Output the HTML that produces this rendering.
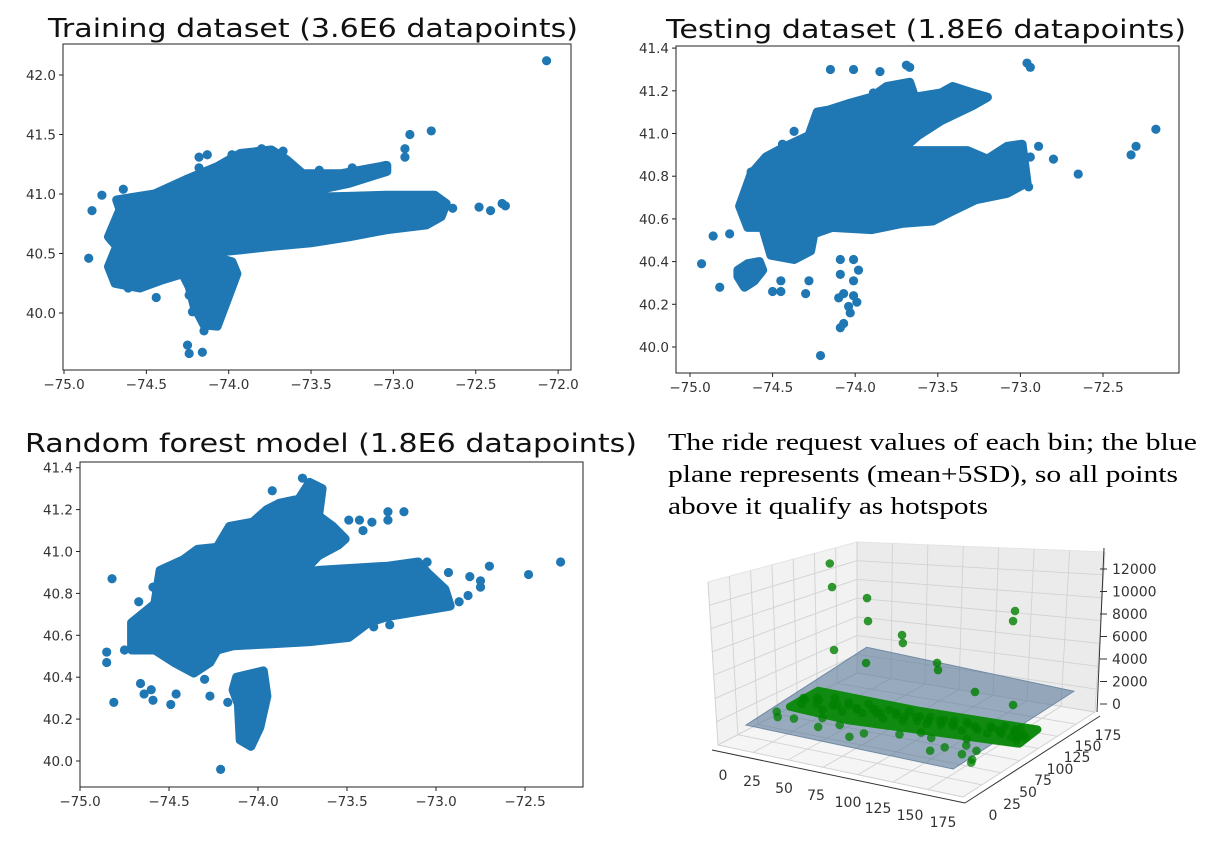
<!DOCTYPE html>
<html><head><meta charset="utf-8"><style>
html,body{margin:0;padding:0;background:#fff;}
svg{display:block;font-family:"DejaVu Sans","Liberation Sans",sans-serif;}
</style></head><body>
<svg id="fig" width="1206" height="843" viewBox="0 0 1206 843" xmlns="http://www.w3.org/2000/svg">
<rect width="1206" height="843" fill="#fff"/>
<text x="48" y="37" font-size="26" textLength="530" lengthAdjust="spacingAndGlyphs" fill="#111">Training dataset (3.6E6 datapoints)</text>
<text x="666" y="38" font-size="26" textLength="520" lengthAdjust="spacingAndGlyphs" fill="#111">Testing dataset (1.8E6 datapoints)</text>
<text x="25" y="452" font-size="26" textLength="612" lengthAdjust="spacingAndGlyphs" fill="#111">Random forest model (1.8E6 datapoints)</text>
<g font-family="'Liberation Serif',serif" font-size="24" fill="#000">
<text x="668" y="450" textLength="529" lengthAdjust="spacingAndGlyphs">The ride request values of each bin; the blue</text>
<text x="668" y="482" textLength="510" lengthAdjust="spacingAndGlyphs">plane represents (mean+5SD), so all points</text>
<text x="668" y="514" textLength="320" lengthAdjust="spacingAndGlyphs">above it qualify as hotspots</text>
</g>
<g id="p1"></g>
<g id="p2"></g>
<g id="p3"></g>
<g id="p4"></g>
</svg>
<script>
// ---------- DATA: Training ----------
const trainXTicks = [-75.0, -74.5, -74.0, -73.5, -73.0, -72.5, -72.0];
const trainYTicks = [40.0, 40.5, 41.0, 41.5, 42.0];
const trainBlob = [[-74.68,40.95],[-74.45,41.0],[-74.26,41.12],[-74.07,41.23],[-73.93,41.34],[-73.74,41.37],[-73.65,41.29],[-73.55,41.17],[-73.32,41.17],[-73.04,41.24],[-73.04,41.19],[-73.27,41.09],[-73.51,41.02],[-73.6,40.97],[-73.27,40.98],[-73.04,40.99],[-72.75,40.99],[-72.68,40.92],[-72.71,40.81],[-72.8,40.74],[-73.04,40.7],[-73.27,40.64],[-73.5,40.59],[-73.74,40.56],[-73.93,40.53],[-74.16,40.5],[-73.98,40.43],[-73.95,40.33],[-74.01,40.11],[-74.07,39.89],[-74.15,39.9],[-74.21,40.06],[-74.24,40.22],[-74.28,40.33],[-74.4,40.28],[-74.54,40.21],[-74.69,40.25],[-74.73,40.39],[-74.68,40.56],[-74.73,40.64],[-74.66,40.87]];
const trainLon = [-74.85,-74.83,-74.77,-74.64,-72.07,-72.77,-72.9,-72.93,-72.93,-72.64,-72.48,-72.41,-72.34,-72.32,-74.44,-74.24,-74.25,-74.16,-74.15,-74.22,-74.18,-74.13,-74.18,-73.98,-73.8,-73.67,-73.45,-73.25,-73.05,-74.24,-74.61];
const trainLat = [40.46,40.86,40.99,41.04,42.12,41.53,41.5,41.38,41.31,40.88,40.89,40.86,40.92,40.9,40.13,39.66,39.73,39.67,39.85,40.01,41.31,41.33,41.22,41.33,41.38,41.36,41.2,41.22,41.24,40.15,40.21];
// ---------- DATA: Testing ----------
const testXTicks = [-75.0, -74.5, -74.0, -73.5, -73.0, -72.5];
const testYTicks = [40.0, 40.2, 40.4, 40.6, 40.8, 41.0, 41.2, 41.4];
const testBlob = [[-74.7,40.66],[-74.63,40.81],[-74.54,40.89],[-74.42,40.94],[-74.28,40.99],[-74.23,41.1],[-74.16,41.11],[-74.04,41.14],[-73.9,41.17],[-73.81,41.22],[-73.67,41.24],[-73.64,41.17],[-73.48,41.19],[-73.41,41.22],[-73.29,41.19],[-73.2,41.17],[-73.29,41.13],[-73.48,41.06],[-73.62,40.99],[-73.74,40.91],[-73.67,40.92],[-73.32,40.92],[-73.2,40.88],[-73.08,40.94],[-72.99,40.95],[-72.96,40.77],[-73.08,40.72],[-73.27,40.69],[-73.43,40.63],[-73.53,40.59],[-73.71,40.58],[-73.9,40.55],[-74.14,40.56],[-74.25,40.53],[-74.27,40.45],[-74.37,40.41],[-74.51,40.43],[-74.56,40.56],[-74.65,40.56]];
const testBlob2 = [[-74.71,40.36],[-74.65,40.39],[-74.58,40.4],[-74.56,40.36],[-74.61,40.31],[-74.67,40.28],[-74.71,40.33]];
const testLon = [-74.09,-74.01,-73.98,-74.09,-74.01,-74.07,-74.01,-74.04,-74.03,-74.07,-74.09,-74.1,-73.99,-74.93,-74.86,-74.76,-74.82,-74.67,-74.63,-74.5,-74.45,-74.45,-74.3,-74.28,-74.21,-74.15,-74.01,-73.85,-73.69,-73.67,-72.96,-72.94,-72.89,-72.8,-72.94,-72.65,-72.33,-72.3,-72.18,-72.95,-73.89,-74.37,-74.44];
const testLat = [40.41,40.41,40.36,40.34,40.31,40.25,40.24,40.19,40.16,40.11,40.09,40.23,40.21,40.39,40.52,40.53,40.28,40.71,40.82,40.26,40.26,40.31,40.25,40.31,39.96,41.3,41.3,41.29,41.32,41.31,41.33,41.31,40.94,40.88,40.89,40.81,40.9,40.94,41.02,40.75,41.19,41.01,40.95];
// ---------- DATA: Random forest ----------
const rfXTicks = [-75.0, -74.5, -74.0, -73.5, -73.0, -72.5];
const rfYTicks = [40.0, 40.2, 40.4, 40.6, 40.8, 41.0, 41.2, 41.4];
const rfBlob = [[-74.71,40.53],[-74.71,40.66],[-74.58,40.75],[-74.55,40.91],[-74.42,40.96],[-74.34,41.01],[-74.23,41.02],[-74.16,41.12],[-74.03,41.14],[-73.95,41.2],[-73.88,41.23],[-73.77,41.25],[-73.71,41.33],[-73.64,41.3],[-73.66,41.17],[-73.58,41.12],[-73.51,41.06],[-73.55,41.03],[-73.66,40.98],[-73.75,40.9],[-73.66,40.91],[-73.27,40.93],[-73.1,40.95],[-73.05,40.9],[-72.95,40.82],[-72.92,40.74],[-73.27,40.69],[-73.38,40.66],[-73.49,40.59],[-73.71,40.57],[-73.92,40.56],[-74.14,40.55],[-74.23,40.53],[-74.27,40.47],[-74.36,40.42],[-74.47,40.47],[-74.58,40.53]];
const rfBlob2 = [[-74.12,40.4],[-73.97,40.43],[-73.95,40.31],[-73.99,40.16],[-74.04,40.07],[-74.1,40.1],[-74.11,40.27],[-74.14,40.34]];
const rfLon = [-74.82,-74.85,-74.85,-74.75,-74.81,-74.49,-74.46,-74.59,-74.67,-74.66,-74.6,-74.64,-74.59,-74.3,-74.27,-74.17,-74.21,-73.92,-73.75,-73.49,-73.43,-73.41,-73.36,-73.27,-73.18,-73.27,-72.93,-72.87,-72.82,-72.81,-72.75,-72.75,-72.7,-72.48,-72.3,-73.35,-73.26,-73.05];
const rfLat = [40.87,40.52,40.47,40.53,40.28,40.27,40.32,40.83,40.76,40.37,40.34,40.32,40.29,40.39,40.31,40.28,39.96,41.29,41.35,41.15,41.15,41.1,41.14,41.19,41.19,41.15,40.9,40.76,40.79,40.88,40.86,40.83,40.93,40.89,40.95,40.64,40.65,40.95];
// ---------- DATA: 3D hotspots ----------
const binXTicks = [0,25,50,75,100,125,150,175];
const binYTicks = [0,25,50,75,100,125,150,175];
const countTicks = [0,2000,4000,6000,8000,10000,12000];
const planeLevel = 1500;
const hotX = [26,27.6,52.6,53.3,29,51.9,77.6,78.2,102.6,103.3,158.3,156.9,129.7,156.9];
const hotY = [100,100,100,100,100,100,100,100,100,100,100,100,100,100];
const hotZ = [11700,9650,9330,7300,4090,3540,6700,6010,4880,4270,10970,10040,3020,2580];
const bandPolyX = [18,20,90,170,172,150,60];
const bandPolyY = [62,96,98,108,80,76,60];
const bandX = [18,22,25,30,35,38,42,46,50,55,58,62,66,70,74,78,82,86,90,94,98,102,106,110,114,118,122,126,130,134,138,142,146,150,154,158,162,166,170,168,160,150,20,28,40,48,56,64,72,80,88,96,104,112,120,128,136,144,152,160,166,15,20,30,45,50,60,75,80,100,120,130,135,145,150,155,160,162,140,110];
const bandY = [80,70,85,75,90,68,80,88,72,82,92,76,86,80,90,74,84,94,78,88,82,92,80,90,84,94,86,96,82,92,88,98,86,94,90,100,88,96,92,84,104,102,78,82,78,84,80,86,82,88,84,90,86,92,88,94,90,96,92,96,90,50,42,45,55,40,50,35,45,55,60,40,50,60,45,55,40,35,70,65];
const bandZ = 400;

const NS = "http://www.w3.org/2000/svg";
function mk(tag, attrs, parent) {
  const e = document.createElementNS(NS, tag);
  for (const k in attrs) e.setAttribute(k, attrs[k]);
  parent.appendChild(e);
  return e;
}
const BLUE = "#1f77b4";

function scatterPanel(gid, cfg, xticks, yticks, blobs, lons, lats) {
  const g = document.getElementById(gid);
  const xs = v => cfg.x0 + (v - cfg.lonRef) * cfg.kx;
  const ys = v => cfg.y0 - (v - cfg.latRef) * cfg.ky;
  blobs.forEach(b => {
    const pts = b.map(p => xs(p[0]).toFixed(1) + "," + ys(p[1]).toFixed(1)).join(" ");
    const p = mk("polygon", {points: pts, fill: BLUE, stroke: BLUE, "stroke-width": 9, "stroke-linejoin": "round"}, g);
    
    
  });
  lons.forEach((lo, i) => {
    const c = mk("circle", {cx: xs(lo), cy: ys(lats[i]), r: 4.6, fill: BLUE}, g);
    
    
  });
  const fr = mk("rect", {x: cfg.L, y: cfg.T, width: cfg.R - cfg.L, height: cfg.B - cfg.T, fill: "none", stroke: "#222", "stroke-width": 1}, g);
  
  
  xticks.forEach(t => {
    const x = xs(t);
    mk("line", {x1: x, x2: x, y1: cfg.B, y2: cfg.B + 4, stroke: "#222"}, g);
    const tx = mk("text", {x: x, y: cfg.B + 19, "font-size": 13.5, "text-anchor": "middle", fill: "#333"}, g);
    tx.textContent = "\u2212" + Math.abs(t).toFixed(1);
    
    
  });
  yticks.forEach(t => {
    const y = ys(t);
    mk("line", {x1: cfg.L - 4, x2: cfg.L, y1: y, y2: y, stroke: "#222"}, g);
    const tx = mk("text", {x: cfg.L - 7, y: y + 5, "font-size": 13.5, "text-anchor": "end", fill: "#333"}, g);
    tx.textContent = t.toFixed(1);
    
    
  });
}

scatterPanel("p1", {L: 63, R: 571, T: 44, B: 370, x0: 64, lonRef: -75, kx: 164.7, y0: 313, latRef: 40, ky: 119},
  trainXTicks, trainYTicks, [trainBlob], trainLon, trainLat);
scatterPanel("p2", {L: 676, R: 1179, T: 46, B: 373, x0: 690, lonRef: -75, kx: 165.2, y0: 347, latRef: 40, ky: 213.5},
  testXTicks, testYTicks, [testBlob, testBlob2], testLon, testLat);
scatterPanel("p3", {L: 80, R: 583, T: 462, B: 787, x0: 80, lonRef: -75, kx: 178, y0: 761, latRef: 40, ky: 209.5},
  rfXTicks, rfYTicks, [rfBlob, rfBlob2], rfLon, rfLat);

// ---------- 3D panel ----------
(function () {
  const g = document.getElementById("p4");
  const O = [718, 745];
  const P = (x, y, z) => [O[0] + x * 1.4 + y * 0.754, O[1] + x * 0.297 - y * 0.486 - 9 - z * 0.01125];
  const poly = (pts, attrs, name) => {
    const p = mk("polygon", Object.assign({points: pts.map(q => q.join(",")).join(" ")}, attrs), g);
    
    
    return p;
  };
  const lerp = (a, b, t) => [a[0] + (b[0] - a[0]) * t, a[1] + (b[1] - a[1]) * t];
  const LT = [708, 582], BK = [857, 542], BKb = [857, 673], LB = [718, 745], RT = [1105, 552], RB = [1095, 712], FR = [963, 797];
  poly([LT, BK, BKb, LB], {fill: "#f2f2f2", stroke: "#e4e4e4"}, "left-pane");
  poly([BK, RT, RB, BKb], {fill: "#ebebeb", stroke: "#e4e4e4"}, "back-pane");
  poly([LB, BKb, RB, FR], {fill: "#f5f5f5", stroke: "#e4e4e4"}, "floor-pane");
  const gl = (a, b) => mk("line", {x1: a[0], y1: a[1], x2: b[0], y2: b[1], stroke: "#d2d2d2", "stroke-width": 0.9}, g);
  for (let i = 0; i <= 7; i++) {
    const t = i / 7;
    gl(lerp(LB, BKb, t), lerp(LT, BK, t));
    gl(lerp(BK, RT, t), lerp(BKb, RB, t));
    gl(lerp(LB, FR, t), lerp(BKb, RB, t));
    gl(lerp(LB, BKb, t), lerp(FR, RB, t));
  }
  for (let i = 1; i <= 6; i++) {
    const t = i / 7;
    gl(lerp(LB, LT, t), lerp(BKb, BK, t));
    gl(lerp(BKb, BK, t), lerp(RB, RT, t));
  }
  mk("line", {x1: 712, y1: 750, x2: 965, y2: 803, stroke: "#333"}, g);
  mk("line", {x1: 965, y1: 803, x2: 1100, y2: 716, stroke: "#333"}, g);
  mk("line", {x1: 1104, y1: 548, x2: 1097, y2: 712, stroke: "#333"}, g);
  poly([P(20, 0, planeLevel), P(20, 160, planeLevel), P(168, 160, planeLevel), P(168, 0, planeLevel)],
       {fill: "#5a7a99", "fill-opacity": 0.6, stroke: "#6f8aa4"}, "threshold-plane");
  poly(bandPolyX.map((x, i) => P(x, bandPolyY[i], bandZ)),
       {fill: "#108a10", stroke: "#108a10", "stroke-width": 8, "stroke-linejoin": "round"}, "dense-bin-band");
  bandX.forEach((x, i) => {
    const q = P(x, bandY[i], bandZ);
    const c = mk("circle", {cx: q[0], cy: q[1], r: 4.3, fill: "#008000", "fill-opacity": 0.75}, g);
    
    
  });
  hotX.forEach((x, i) => {
    const q = P(x, hotY[i], hotZ[i]);
    const c = mk("circle", {cx: q[0], cy: q[1], r: 4.3, fill: "#008000", "fill-opacity": 0.8}, g);
    
    
  });
  const xLab = [[723,780],[752,786],[784,793],[816,800],[848,807],[878,813],[910,820],[943,827]];
  binXTicks.forEach((t, i) => {
    const tx = mk("text", {x: xLab[i][0], y: xLab[i][1], "font-size": 14, "text-anchor": "middle", fill: "#333"}, g);
    tx.textContent = t;
    
    
  });
  const yLab = [[993,820],[1012,809],[1028,797],[1043,785],[1060,774],[1077,762],[1088,751],[1108,740]];
  binYTicks.forEach((t, i) => {
    const tx = mk("text", {x: yLab[i][0], y: yLab[i][1], "font-size": 14, "text-anchor": "middle", fill: "#333"}, g);
    tx.textContent = t;
    
    
  });
  countTicks.forEach(t => {
    const y = 704 - t * (135 / 12000);
    const tx = mk("text", {x: 1112, y: y + 5, "font-size": 14, fill: "#333"}, g);
    tx.textContent = t;
    
    
    mk("line", {x1: 1100, x2: 1107, y1: y, y2: y, stroke: "#333"}, g);
  });
})();
</script>
</body></html>
